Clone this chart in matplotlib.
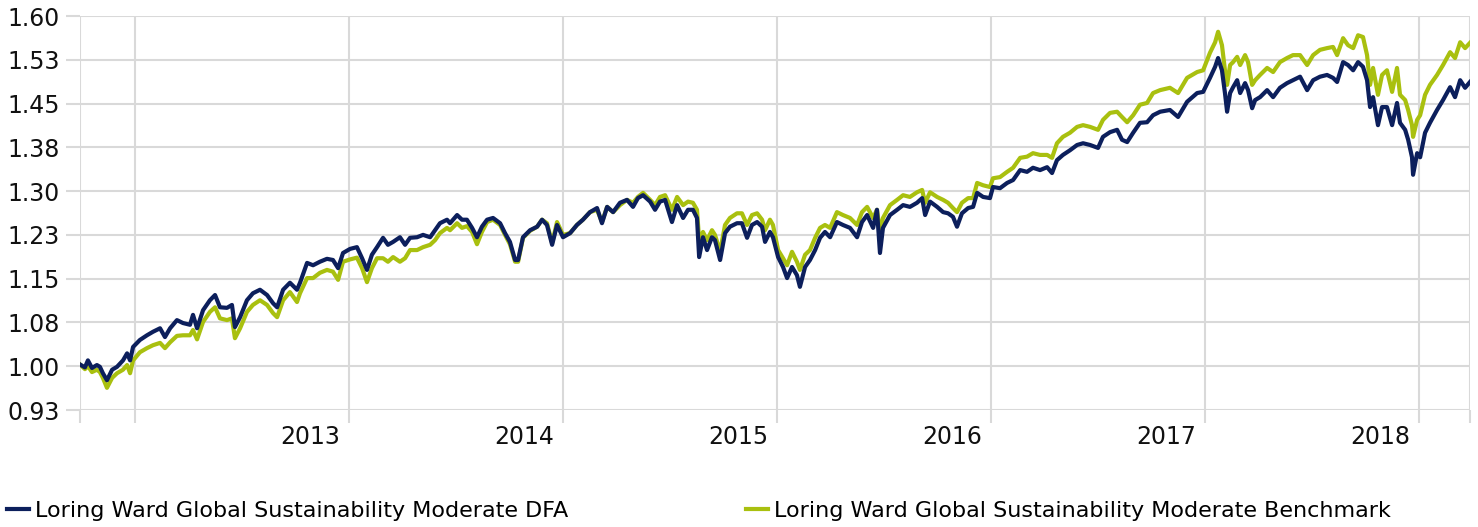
import numpy as np
import matplotlib
matplotlib.use("Agg")
import matplotlib.pyplot as plt
from matplotlib.transforms import ScaledTranslation

# Growth of 1 dollar (dates as decimal years)
years = [
    2011.743, 2011.766, 2011.780, 2011.799, 2011.822, 2011.836, 2011.850, 2011.869, 2011.893, 2011.916,
    2011.944, 2011.963, 2011.977, 2011.991, 2012.023, 2012.056, 2012.084, 2012.117, 2012.140, 2012.164,
    2012.196, 2012.224, 2012.257, 2012.271, 2012.290, 2012.318, 2012.350, 2012.374, 2012.397, 2012.430,
    2012.453, 2012.467, 2012.491, 2012.523, 2012.551, 2012.584, 2012.617, 2012.645, 2012.664, 2012.692,
    2012.724, 2012.757, 2012.771, 2012.804, 2012.832, 2012.864, 2012.897, 2012.925, 2012.949, 2012.972,
    2013.005, 2013.037,
    2013.061, 2013.084, 2013.107, 2013.131, 2013.159, 2013.182, 2013.206, 2013.238, 2013.262, 2013.285,
    2013.318, 2013.346, 2013.379, 2013.402, 2013.425, 2013.458, 2013.472, 2013.505, 2013.528, 2013.551,
    2013.575, 2013.598, 2013.621, 2013.645, 2013.673, 2013.706, 2013.729, 2013.752, 2013.776, 2013.790,
    2013.813, 2013.846, 2013.879, 2013.902, 2013.925, 2013.949, 2013.972, 2014.000, 2014.033, 2014.065,
    2014.093, 2014.126, 2014.159, 2014.182, 2014.206, 2014.234,
    2014.266, 2014.299, 2014.327, 2014.350, 2014.374, 2014.407, 2014.430, 2014.453, 2014.477, 2014.509,
    2014.533, 2014.561, 2014.584, 2014.607, 2014.626, 2014.636, 2014.654, 2014.673, 2014.696, 2014.710,
    2014.734, 2014.757, 2014.780, 2014.813, 2014.836, 2014.860, 2014.883, 2014.907, 2014.930, 2014.944,
    2014.967, 2014.981, 2015.005, 2015.028, 2015.047, 2015.070, 2015.093, 2015.107, 2015.131, 2015.154,
    2015.178, 2015.201, 2015.224, 2015.248, 2015.280, 2015.308, 2015.341, 2015.374, 2015.397, 2015.421,
    2015.449, 2015.467, 2015.481, 2015.495,
    2015.528, 2015.561, 2015.589, 2015.621, 2015.654, 2015.678, 2015.692, 2015.715, 2015.748, 2015.776,
    2015.799, 2015.822, 2015.841, 2015.864, 2015.893, 2015.916, 2015.935, 2015.963, 2015.995, 2016.009,
    2016.042, 2016.075, 2016.103, 2016.136, 2016.168, 2016.196, 2016.229, 2016.262, 2016.285, 2016.308,
    2016.336, 2016.369, 2016.402, 2016.430, 2016.463, 2016.500, 2016.523, 2016.556, 2016.589, 2016.612,
    2016.636, 2016.664, 2016.696, 2016.729,
    2016.757, 2016.790, 2016.836, 2016.874, 2016.916, 2016.963, 2016.991, 2017.023, 2017.047, 2017.061,
    2017.079, 2017.093, 2017.103, 2017.117, 2017.131, 2017.150, 2017.164, 2017.187, 2017.201, 2017.220,
    2017.234, 2017.257, 2017.290, 2017.318, 2017.350, 2017.383, 2017.411, 2017.444, 2017.477, 2017.505,
    2017.537, 2017.570, 2017.598, 2017.617, 2017.645, 2017.668, 2017.692, 2017.715, 2017.738, 2017.757,
    2017.771, 2017.785, 2017.808, 2017.827, 2017.850, 2017.874, 2017.897, 2017.911, 2017.935, 2017.949,
    2017.967, 2017.972, 2017.991, 2018.005, 2018.028, 2018.051, 2018.084, 2018.112, 2018.145, 2018.168,
    2018.192, 2018.215, 2018.238,
]

dfa = [
    1.003, 0.998, 1.010, 0.997, 1.002, 0.999, 0.988, 0.976, 0.994, 0.999,
    1.010, 1.022, 1.010, 1.033, 1.045, 1.053, 1.059, 1.065, 1.050, 1.065,
    1.079, 1.074, 1.071, 1.088, 1.065, 1.096, 1.113, 1.122, 1.101, 1.100,
    1.105, 1.067, 1.084, 1.113, 1.125, 1.131, 1.122, 1.108, 1.101, 1.131,
    1.143, 1.131, 1.143, 1.177, 1.173, 1.179, 1.184, 1.182, 1.168, 1.194,
    1.201, 1.204,
    1.185, 1.165, 1.191, 1.204, 1.220, 1.208, 1.213, 1.221, 1.208, 1.220,
    1.221, 1.225, 1.221, 1.233, 1.245, 1.251, 1.245, 1.259, 1.251, 1.251,
    1.237, 1.221, 1.239, 1.251, 1.254, 1.245, 1.228, 1.213, 1.182, 1.182,
    1.221, 1.233, 1.239, 1.251, 1.242, 1.208, 1.242, 1.221, 1.228, 1.242,
    1.251, 1.264, 1.271, 1.245, 1.273, 1.264,
    1.280, 1.285, 1.273, 1.288, 1.293, 1.282, 1.268, 1.282, 1.285, 1.247,
    1.276, 1.254, 1.268, 1.268, 1.254, 1.187, 1.221, 1.199, 1.221, 1.216,
    1.182, 1.228, 1.239, 1.245, 1.245, 1.220, 1.242, 1.247, 1.239, 1.213,
    1.230, 1.221, 1.187, 1.170, 1.151, 1.170, 1.156, 1.136, 1.170, 1.182,
    1.199, 1.220, 1.230, 1.221, 1.247, 1.242, 1.237, 1.221, 1.247, 1.259,
    1.237, 1.268, 1.194, 1.237,
    1.259, 1.268, 1.276, 1.273, 1.280, 1.288, 1.259, 1.282, 1.273, 1.264,
    1.262, 1.256, 1.239, 1.262, 1.271, 1.273, 1.297, 1.290, 1.288, 1.307,
    1.305, 1.314, 1.319, 1.336, 1.333, 1.340, 1.336, 1.341, 1.331, 1.353,
    1.362, 1.370, 1.379, 1.382, 1.379, 1.374, 1.393, 1.401, 1.405, 1.388,
    1.384, 1.400, 1.417, 1.418,
    1.430, 1.436, 1.439, 1.427, 1.453, 1.468, 1.470, 1.494, 1.513, 1.528,
    1.507, 1.468, 1.436, 1.468, 1.478, 1.490, 1.468, 1.485, 1.473, 1.442,
    1.456, 1.461, 1.473, 1.461, 1.477, 1.485, 1.490, 1.496, 1.473, 1.490,
    1.496, 1.499, 1.494, 1.487, 1.521, 1.516, 1.507, 1.521, 1.513, 1.490,
    1.444, 1.461, 1.413, 1.444, 1.444, 1.413, 1.451, 1.417, 1.405, 1.388,
    1.358, 1.328, 1.365, 1.358, 1.400, 1.417, 1.439, 1.456, 1.478, 1.461,
    1.490, 1.477, 1.487,
]

benchmark = [
    1.003, 0.995, 1.000, 0.990, 0.994, 0.990, 0.980, 0.963, 0.980, 0.988,
    0.994, 1.002, 0.988, 1.010, 1.024, 1.031, 1.036, 1.040, 1.031, 1.041,
    1.052, 1.053, 1.053, 1.062, 1.046, 1.076, 1.093, 1.101, 1.082, 1.079,
    1.082, 1.048, 1.065, 1.093, 1.105, 1.113, 1.105, 1.091, 1.084, 1.113,
    1.127, 1.110, 1.125, 1.151, 1.151, 1.160, 1.165, 1.162, 1.148, 1.179,
    1.183, 1.186,
    1.168, 1.144, 1.168, 1.185, 1.185, 1.179, 1.187, 1.179, 1.185, 1.199,
    1.199, 1.204, 1.208, 1.216, 1.228, 1.237, 1.233, 1.245, 1.237, 1.240,
    1.230, 1.209, 1.230, 1.247, 1.251, 1.242, 1.225, 1.209, 1.179, 1.179,
    1.220, 1.232, 1.239, 1.251, 1.245, 1.211, 1.247, 1.225, 1.228, 1.242,
    1.251, 1.264, 1.268, 1.247, 1.273, 1.264,
    1.276, 1.285, 1.280, 1.290, 1.297, 1.285, 1.276, 1.290, 1.293, 1.268,
    1.290, 1.276, 1.282, 1.280, 1.268, 1.216, 1.230, 1.216, 1.233, 1.225,
    1.196, 1.242, 1.254, 1.262, 1.262, 1.242, 1.259, 1.262, 1.251, 1.233,
    1.251, 1.242, 1.199, 1.185, 1.173, 1.196, 1.179, 1.165, 1.191, 1.199,
    1.220, 1.237, 1.242, 1.237, 1.264, 1.259, 1.254, 1.242, 1.264, 1.273,
    1.254, 1.268, 1.230, 1.254,
    1.276, 1.285, 1.293, 1.290, 1.298, 1.302, 1.280, 1.298, 1.290, 1.285,
    1.280, 1.271, 1.264, 1.280, 1.288, 1.288, 1.314, 1.310, 1.307, 1.322,
    1.324, 1.333, 1.340, 1.357, 1.359, 1.365, 1.362, 1.362, 1.357, 1.382,
    1.393, 1.400, 1.410, 1.413, 1.410, 1.405, 1.422, 1.434, 1.436, 1.427,
    1.418, 1.430, 1.448, 1.451,
    1.468, 1.473, 1.477, 1.468, 1.494, 1.504, 1.507, 1.537, 1.555, 1.573,
    1.550, 1.507, 1.482, 1.516, 1.521, 1.530, 1.516, 1.533, 1.521, 1.482,
    1.490, 1.499, 1.511, 1.504, 1.521, 1.528, 1.533, 1.533, 1.516, 1.533,
    1.542, 1.545, 1.547, 1.533, 1.562, 1.550, 1.545, 1.567, 1.564, 1.533,
    1.482, 1.511, 1.465, 1.499, 1.507, 1.470, 1.511, 1.465, 1.456, 1.439,
    1.413, 1.393, 1.422, 1.430, 1.465, 1.482, 1.499, 1.516, 1.538, 1.528,
    1.555, 1.545, 1.554,
]

series_names = ["Loring Ward Global Sustainability Moderate DFA",
                "Loring Ward Global Sustainability Moderate Benchmark"]

y_ticks = [0.925, 1.0, 1.075, 1.15, 1.225, 1.3, 1.375, 1.45, 1.525, 1.6]
y_labels = ["0.93", "1.00", "1.08", "1.15", "1.23", "1.30", "1.38", "1.45", "1.53", "1.60"]
year_ticks = [2012, 2013, 2014, 2015, 2016, 2017, 2018]
year_labels = ["", "2013", "2014", "2015", "2016", "2017", "2018"]

assert len(years) == len(dfa) == len(benchmark)

navy = "#0c1f5c"
green = "#a9c00f"
grid_col = "#d9d9d9"

fig = plt.figure(figsize=(14.78, 5.27), dpi=100)
ax = fig.add_axes([80 / 1478, 1 - 410 / 527, 1390 / 1478, 394 / 527])

ax.plot(years, benchmark, color=green, lw=3, label=series_names[1], zorder=2)
ax.plot(years, dfa, color=navy, lw=3, label=series_names[0], zorder=3)

x0, x1 = years[0], years[-1]
ax.set_xlim(x0, x1)
ax.set_ylim(y_ticks[0], y_ticks[-1])

# gridlines with the tick marks sticking out past the plot area
ax.set_yticks(y_ticks)
ax.set_yticklabels(y_labels)
ax.set_xticks([x0] + year_ticks + [x1])
ax.set_xticklabels([""] + year_labels + [""])
ax.grid(True, color=grid_col, lw=1.5)
ax.set_axisbelow(True)
ax.tick_params(axis="y", length=10, width=1.5, color=grid_col, pad=4.5,
               labelsize=17, labelcolor="#111111")
ax.tick_params(axis="x", length=9.5, width=1.5, color=grid_col, pad=1.5,
               labelsize=17, labelcolor="#111111")
for s in ax.spines.values():
    s.set_visible(False)

# year labels sit just left of their gridline
shift = ScaledTranslation(-9 / 100, 0, fig.dpi_scale_trans)
for lab in ax.get_xticklabels():
    lab.set_horizontalalignment("right")
    lab.set_transform(lab.get_transform() + shift)

handles, labels = ax.get_legend_handles_labels()
fig.legend(handles[::-1], labels[::-1], ncol=2, frameon=False,
           loc="center left", bbox_to_anchor=(7 / 1478, 1 - 511 / 527),
           borderaxespad=0, borderpad=0, fontsize=16,
           handlelength=1.0, handletextpad=0.25, columnspacing=8.0)

fig.savefig("out.png", dpi=100)
